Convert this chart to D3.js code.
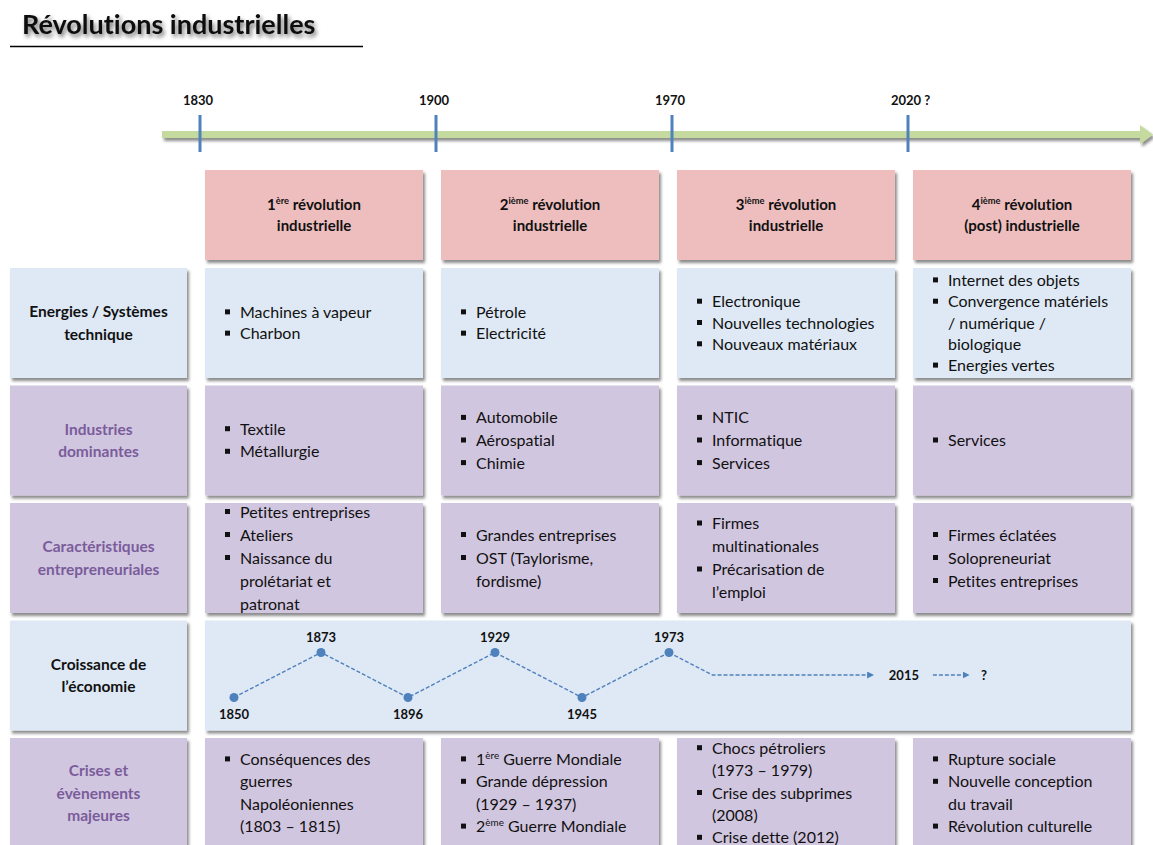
<!DOCTYPE html>
<html>
<head>
<meta charset="utf-8">
<script src="https://cdn.jsdelivr.net/npm/d3@7/dist/d3.min.js"></script>
<style>
  body { margin: 0; background: #fff; }
  svg { display: block; font-family: Lato, "Open Sans", sans-serif;
        font-variant-ligatures: none; font-feature-settings: "liga" 0, "clig" 0; }
</style>
</head>
<body>
<svg id="chart" width="1153" height="845"></svg>
<script>
// ---------------- DATA ----------------
const title = "Révolutions industrielles";
const timelineTicks = ["1830", "1900", "1970", "2020 ?"];
const headers = [
  "1^{ère} révolution\nindustrielle",
  "2^{ième} révolution\nindustrielle",
  "3^{ième} révolution\nindustrielle",
  "4^{ième} révolution\n(post) industrielle"
];
const rowLabels = [
  "Energies / Systèmes\ntechnique",
  "Industries\ndominantes",
  "Caractéristiques\nentrepreneuriales",
  "Croissance de\nl’économie",
  "Crises et\névènements\nmajeures"
];
const energies = [
  ["Machines à vapeur", "Charbon"],
  ["Pétrole", "Electricité"],
  ["Electronique", "Nouvelles technologies", "Nouveaux matériaux"],
  ["Internet des objets", "Convergence matériels\n/ numérique /\nbiologique", "Energies vertes"]
];
const industries = [
  ["Textile", "Métallurgie"],
  ["Automobile", "Aérospatial", "Chimie"],
  ["NTIC", "Informatique", "Services"],
  ["Services"]
];
const caracteristiques = [
  ["Petites entreprises", "Ateliers", "Naissance du\nprolétariat et\npatronat"],
  ["Grandes entreprises", "OST (Taylorisme,\nfordisme)"],
  ["Firmes\nmultinationales", "Précarisation de\nl’emploi"],
  ["Firmes éclatées", "Solopreneuriat", "Petites entreprises"]
];
const crises = [
  ["Conséquences des\nguerres\nNapoléoniennes\n(1803 – 1815)"],
  ["1^{ère} Guerre Mondiale", "Grande dépression\n(1929 – 1937)", "2^{ème} Guerre Mondiale"],
  ["Chocs pétroliers\n(1973 – 1979)", "Crise des subprimes\n(2008)", "Crise dette (2012)"],
  ["Rupture sociale", "Nouvelle conception\ndu travail", "Révolution culturelle"]
];
// economic cycle: year, phase (1 = peak, 0 = trough)
const cycleYears = [1850, 1873, 1896, 1929, 1945, 1973];
const cyclePhase = [0, 1, 0, 1, 0, 1];
// trend continuation (step index along the cycle, phase)
const trendSteps = [5, 5.5, 7.35];
const trendPhase = [1, 0.5, 0.5];
const futureLabels = ["2015", "?"];
const futureSteps = [7.7, 8.62];

// ---------------- STYLE ----------------
const C = {
  pink: "#EEBEBE", blue: "#DEE9F5", purple: "#D1C6E0",
  purpleText: "#7A5C9A", green: "#C5DA9E", accent: "#4F81BD"
};

const svg = d3.select("#chart");
const defs = svg.append("defs");
const sh = defs.append("filter").attr("id", "shadow")
  .attr("x", "-5%").attr("y", "-10%").attr("width", "115%").attr("height", "130%");
sh.append("feDropShadow").attr("dx", 2).attr("dy", 3).attr("stdDeviation", 1.8)
  .attr("flood-color", "#000").attr("flood-opacity", 0.45);
const tsh = defs.append("filter").attr("id", "tshadow")
  .attr("x", "-10%").attr("y", "-30%").attr("width", "120%").attr("height", "170%");
tsh.append("feDropShadow").attr("dx", 2).attr("dy", 3).attr("stdDeviation", 2.2)
  .attr("flood-color", "#000").attr("flood-opacity", 0.55);

// helper: write text with ^{sup} markup into a text element
function richText(sel, str, size) {
  const parts = str.split(/(\^\{[^}]*\})/).filter(s => s.length);
  let shifted = false;
  parts.forEach(p => {
    const m = p.match(/^\^\{([^}]*)\}$/);
    if (m) {
      sel.append("tspan").attr("dy", -size * 0.38).attr("font-size", size * 0.62).text(m[1]);
      shifted = true;
    } else {
      const t = sel.append("tspan").text(p);
      if (shifted) { t.attr("dy", size * 0.38); shifted = false; }
    }
  });
}

// ---------------- TITLE ----------------
svg.append("text").attr("x", 22).attr("y", 34)
  .attr("font-size", 27).attr("font-weight", 700).attr("fill", "#111")
  .attr("filter", "url(#tshadow)").text(title);
svg.append("line").attr("x1", 10).attr("x2", 363).attr("y1", 46.5).attr("y2", 46.5)
  .attr("stroke", "#000").attr("stroke-width", 1.5);

// ---------------- TIMELINE ----------------
const xTime = d3.scalePoint().domain(timelineTicks).range([200, 908]);
const tl = svg.append("g");
tl.append("path")
  .attr("d", "M162,131 L1140,131 L1140,125 L1153,134.5 L1140,144 L1140,138 L162,138 Z")
  .attr("fill", C.green).attr("filter", "url(#shadow)");
tl.selectAll("line.tick").data(timelineTicks).join("line")
  .attr("x1", d => xTime(d)).attr("x2", d => xTime(d))
  .attr("y1", 115).attr("y2", 152)
  .attr("stroke", C.accent).attr("stroke-width", 3);
tl.selectAll("text").data(timelineTicks).join("text")
  .attr("x", d => xTime(d) - 17).attr("y", 105)
  .attr("font-size", 13).attr("font-weight", 700).attr("fill", "#111")
  .text(d => d);

// ---------------- GRID ----------------
const colX = d3.scaleLinear().domain([0, 1]).range([205, 441]);
const colW = 218;
const rowTop = d3.scaleLinear().domain([0, 1]).range([268, 385.5]);
const rowH = 110;
const labelX = 10, labelW = 177;

// headers
headers.forEach((h, i) => {
  const g = svg.append("g");
  g.append("rect").attr("x", colX(i)).attr("y", 170).attr("width", colW).attr("height", 90)
    .attr("fill", C.pink).attr("filter", "url(#shadow)");
  const lines = h.split("\n");
  lines.forEach((ln, k) => {
    const t = g.append("text").attr("x", colX(i) + colW / 2)
      .attr("y", 215 + (k - (lines.length - 1) / 2) * 21 + 5.5)
      .attr("text-anchor", "middle").attr("font-size", 15).attr("font-weight", 700)
      .attr("fill", "#111");
    richText(t, ln, 15);
  });
});

// row labels
const labelColors = ["#111", C.purpleText, C.purpleText, "#111", C.purpleText];
const rowFills = [C.blue, C.purple, C.purple, C.blue, C.purple];
rowLabels.forEach((lab, r) => {
  const y0 = rowTop(r);
  svg.append("rect").attr("x", labelX).attr("y", y0).attr("width", labelW).attr("height", rowH)
    .attr("fill", rowFills[r]).attr("filter", "url(#shadow)");
  const lines = lab.split("\n");
  lines.forEach((ln, k) => {
    svg.append("text").attr("x", labelX + labelW / 2)
      .attr("y", y0 + rowH / 2 + (k - (lines.length - 1) / 2) * 22.5 + 5.5)
      .attr("text-anchor", "middle").attr("font-size", 15.5).attr("font-weight", 700)
      .attr("fill", labelColors[r]).text(ln);
  });
});

// content cells
const rowsContent = [
  { r: 0, data: energies, lh: 21.3 },
  { r: 1, data: industries, lh: 22.6 },
  { r: 2, data: caracteristiques, lh: 23 },
  { r: 4, data: crises, lh: 22.4 }
];
rowsContent.forEach(({ r, data, lh }) => {
  data.forEach((items, c) => {
    const x0 = colX(c), y0 = rowTop(r);
    const g = svg.append("g");
    g.append("rect").attr("x", x0).attr("y", y0).attr("width", colW).attr("height", rowH)
      .attr("fill", rowFills[r]).attr("filter", "url(#shadow)");
    const lines = [];
    items.forEach(it => it.split("\n").forEach((ln, k) => lines.push({ text: ln, bullet: k === 0 })));
    const cy = y0 + rowH / 2;
    lines.forEach((ln, k) => {
      const yc = cy + (k - (lines.length - 1) / 2) * lh;
      if (ln.bullet) {
        g.append("rect").attr("x", x0 + 20).attr("y", yc - 3).attr("width", 5).attr("height", 5)
          .attr("fill", "#111");
      }
      const t = g.append("text").attr("x", x0 + 35).attr("y", yc + 5.5)
        .attr("font-size", 16).attr("fill", "#111");
      richText(t, ln.text, 16);
    });
  });
});

// ---------------- CROISSANCE ROW ----------------
const gy = rowTop(3);
svg.append("rect").attr("x", colX(0)).attr("y", gy)
  .attr("width", colX(3) + colW - colX(0)).attr("height", rowH)
  .attr("fill", C.blue).attr("filter", "url(#shadow)");

const xStep = d3.scaleLinear().domain([0, 5]).range([234, 669]);
const yPhase = d3.scaleLinear().domain([0, 1]).range([gy + 77, gy + 32]);

defs.append("marker").attr("id", "arrow").attr("viewBox", "0 0 10 10")
  .attr("refX", 9).attr("refY", 5).attr("markerWidth", 7).attr("markerHeight", 7)
  .attr("markerUnits", "userSpaceOnUse").attr("orient", "auto")
  .append("path").attr("d", "M0,0 L10,5 L0,10 Z").attr("fill", C.accent);

const line = d3.line().x(d => xStep(d[0])).y(d => yPhase(d[1]));
const cyc = cycleYears.map((y, i) => [i, cyclePhase[i]]);
svg.append("path").attr("d", line(cyc)).attr("fill", "none")
  .attr("stroke", C.accent).attr("stroke-width", 1.4).attr("stroke-dasharray", "4,2");
svg.append("path").attr("d", line(trendSteps.map((s, i) => [s, trendPhase[i]])))
  .attr("fill", "none").attr("stroke", C.accent).attr("stroke-width", 1.4)
  .attr("stroke-dasharray", "4,2").attr("marker-end", "url(#arrow)");
// second small arrow between future labels
svg.append("line")
  .attr("x1", xStep(futureSteps[0]) + 29).attr("x2", xStep(futureSteps[1]) - 15)
  .attr("y1", yPhase(0.5)).attr("y2", yPhase(0.5))
  .attr("stroke", C.accent).attr("stroke-width", 1.4).attr("stroke-dasharray", "4,2")
  .attr("marker-end", "url(#arrow)");

svg.selectAll("circle.pt").data(cyc).join("circle")
  .attr("cx", d => xStep(d[0])).attr("cy", d => yPhase(d[1])).attr("r", 4.5)
  .attr("fill", C.accent);
svg.selectAll("text.yr").data(cycleYears).join("text")
  .attr("x", (d, i) => xStep(i)).attr("y", (d, i) => cyclePhase[i] ? yPhase(1) - 11 : yPhase(0) + 21)
  .attr("text-anchor", "middle").attr("font-size", 13).attr("font-weight", 700)
  .attr("fill", "#111").text(d => d);
svg.selectAll("text.fut").data(futureLabels).join("text")
  .attr("x", (d, i) => xStep(futureSteps[i])).attr("y", yPhase(0.5) + 5)
  .attr("text-anchor", "middle").attr("font-size", 13).attr("font-weight", 700)
  .attr("fill", "#111").text(d => d);
</script>
</body>
</html>
